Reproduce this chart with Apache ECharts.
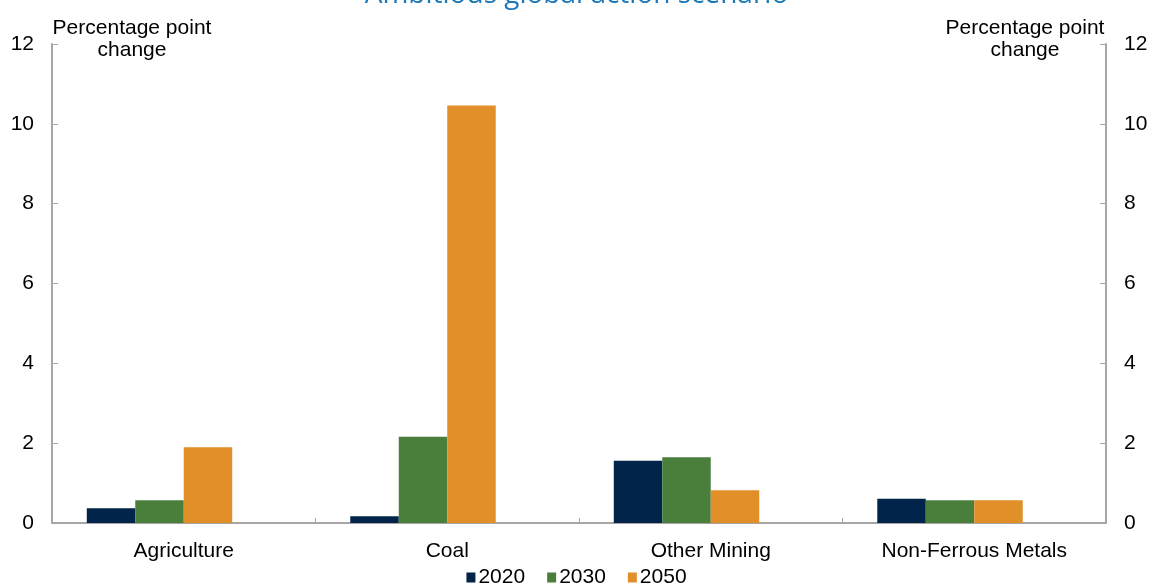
<!DOCTYPE html>
<html>
<head>
<meta charset="utf-8">
<script src="https://cdn.jsdelivr.net/npm/echarts@6/dist/echarts.min.js"></script>
<style>
  html, body { margin: 0; padding: 0; background: #ffffff; }
  #chart { width: 1153px; height: 584px; }
</style>
</head>
<body>
<div id="chart"></div>
<script>
// Sector changes, percentage points
const categories = ['Agriculture', 'Coal', 'Other Mining', 'Non-Ferrous Metals'];
const years = ['2020', '2030', '2050'];
const values2020 = [0.37, 0.17, 1.56, 0.61];
const values2030 = [0.57, 2.16, 1.65, 0.57];
const values2050 = [1.90, 10.46, 0.82, 0.57];
const yTicks = [0, 2, 4, 6, 8, 10, 12];

const colors = ['#03244a', '#4a7e3b', '#e08f29'];
const font = '"Liberation Sans", Arial, sans-serif';

const chart = echarts.init(document.getElementById('chart'));

function valueAxis(position) {
  return {
    type: 'value',
    position: position,
    min: yTicks[0],
    max: yTicks[yTicks.length - 1],
    interval: yTicks[1] - yTicks[0],
    axisLine: { show: true, lineStyle: { color: '#a6a6a6', width: 2 } },
    axisTick: { show: true, inside: true, length: 6, lineStyle: { color: '#a6a6a6', width: 1 } },
    splitLine: { show: false },
    axisLabel: { color: '#000', fontFamily: font, fontSize: 21, margin: 18 }
  };
}

function unitText(x) {
  return {
    type: 'text',
    x: x,
    y: 17,
    style: {
      text: 'Percentage point\nchange',
      fill: '#000',
      font: '21px ' + font,
      textAlign: 'center',
      lineHeight: 22
    }
  };
}

// The grouped bars leave an empty fourth slot to the right of each group
const seriesData = [values2020, values2030, values2050];
const series = seriesData.map((vals, i) => ({
  name: years[i],
  type: 'bar',
  data: vals,
  barGap: '0%',
  barCategoryGap: '26.4%',
  itemStyle: { color: colors[i] }
}));
series.push({
  name: 'spacer',
  type: 'bar',
  data: categories.map(() => null),
  barGap: '0%',
  barCategoryGap: '26.4%',
  silent: true
});

chart.setOption({
  animation: false,
  title: {
    text: 'Ambitious global action scenario',
    left: 'center',
    top: -24,
    textStyle: { color: '#1a78b9', fontFamily: '"Open Sans", sans-serif', fontSize: 28, fontWeight: 'normal' }
  },
  grid: { left: 52, right: 47, top: 44, bottom: 61 },
  legend: {
    data: years,
    bottom: -9,
    left: 'center',
    itemWidth: 9,
    itemHeight: 10,
    itemGap: 22,
    icon: 'rect',
    textStyle: { color: '#000', fontFamily: font, fontSize: 21, padding: [0, 0, 0, -2] }
  },
  xAxis: {
    type: 'category',
    data: categories,
    axisLine: { lineStyle: { color: '#a6a6a6', width: 2 } },
    axisTick: { show: true, inside: true, length: 5, lineStyle: { color: '#a6a6a6' } },
    axisLabel: { color: '#000', fontFamily: font, fontSize: 21, margin: 18 }
  },
  yAxis: [valueAxis('left'), valueAxis('right')],
  graphic: [unitText(132), unitText(1025)],
  series: series
});
</script>
</body>
</html>
